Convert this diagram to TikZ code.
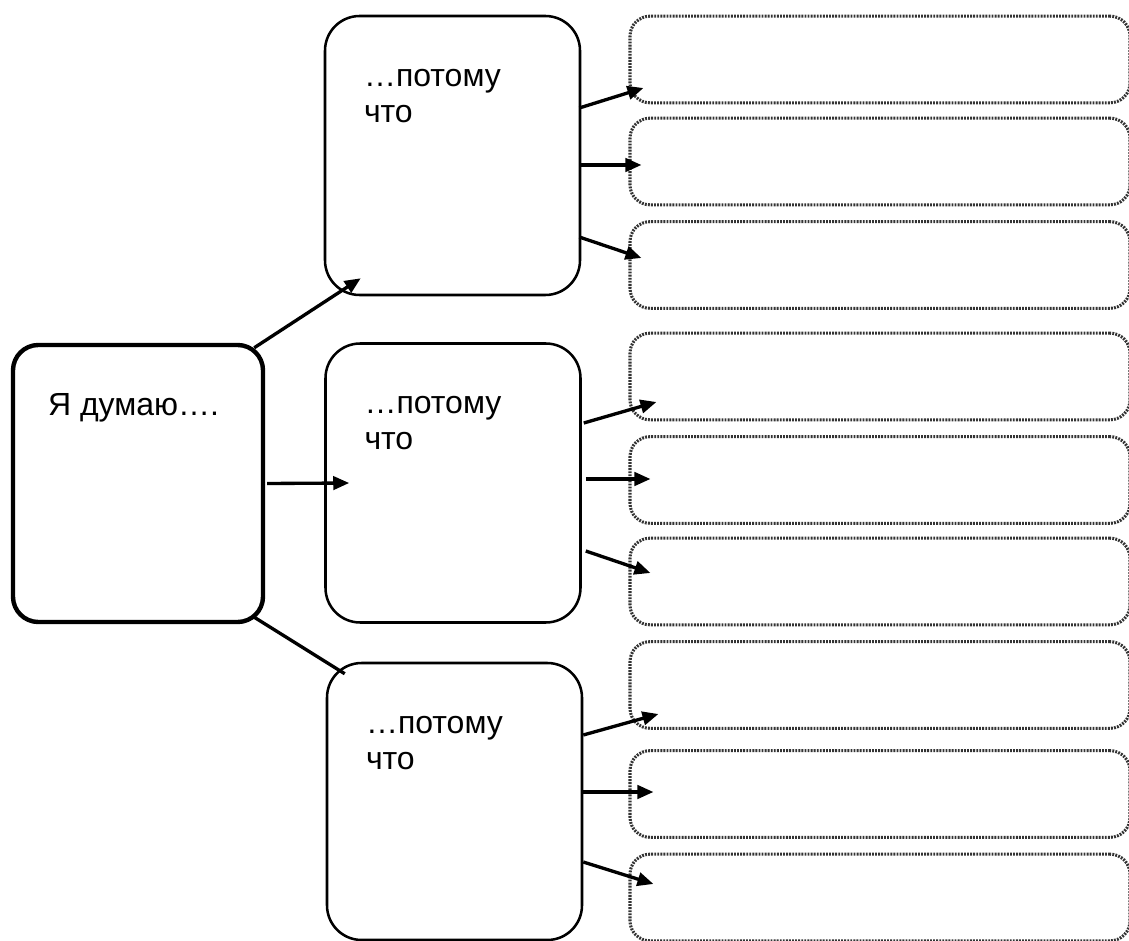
\documentclass[tikz,border=0pt]{standalone}
\usepackage{fontspec}
\setmainfont{Liberation Sans}
\usetikzlibrary{arrows.meta,calc}
\begin{document}
\begin{tikzpicture}[x=0.75pt,y=-0.75pt,
  mainbox/.style={draw=black,line width=3.3pt,rounded corners=19pt,minimum width=187.5pt,minimum height=207.75pt,inner sep=0pt},
  reasonbox/.style={draw=black,line width=1.9pt,rounded corners=26pt,minimum width=191.25pt,minimum height=209.25pt,inner sep=0pt},
  slotbox/.style={draw=black!80,line width=2.3pt,dash pattern=on 1.4pt off 0.9pt,rounded corners=15pt,minimum width=375pt,minimum height=65pt,inner sep=0pt},
  lbl/.style={anchor=north west,inner sep=0pt,align=left,font=\fontsize{24}{27}\selectfont},
  arr/.style={line width=2.5pt,-{Triangle[length=12pt,width=10pt]}},
  link/.style={line width=2.5pt}]
\useasboundingbox (0,0) rectangle (1129,941);
% main boxes
\node[mainbox] (L) at (138,483.5) {};
\node[reasonbox] (m1) at (452.5,155.5) {};
\node[reasonbox] (m2) at (453,483) {};
\node[reasonbox,minimum height=207.75pt] (m3) at (454.5,801.5) {};
% labels
\node[lbl] (tL) at ($(L.north west)+(37,50)$) {Я думаю….};
\node[lbl] (t1) at ($(m1.north west)+(40,54)$) {…потому\\что};
\node[lbl] (t2) at ($(m2.north west)+(40,54)$) {…потому\\что};
\node[lbl] (t3) at ($(m3.north west)+(40,54)$) {…потому\\что};
% slot boxes
\node[slotbox] (d11) at (880,59.5) {};
\node[slotbox] (d12) at (880,161.5) {};
\node[slotbox] (d13) at (880,265) {};
\node[slotbox] (d21) at (880,376.5) {};
\node[slotbox] (d22) at (880,480) {};
\node[slotbox] (d23) at (880,581.5) {};
\node[slotbox] (d31) at (880,685) {};
\node[slotbox] (d32) at (880,794) {};
\node[slotbox] (d33) at (880,897.5) {};
% connectors from the main box
\draw[arr] ($(L.north east)+(-11,5)$) -- ($(m1.south west)+(37,-18)$);
\draw[arr] ($(L.east)+(2,0)$) -- ($(m2.west)+(25,0)$);
\draw[link] ($(L.south east)+(-11,-7)$) -- ($(m3.north west)+(19,12)$);
% group 1
\draw[arr] ($(m1.east)+(-2,-47.5)$) -- ($(d11.west)+(15,28.5)$);
\draw[arr] ($(m1.east)+(-2,9.5)$) -- ($(d12.west)+(13,3.5)$);
\draw[arr] ($(m1.east)+(-2,81.5)$) -- ($(d13.west)+(13,-7)$);
% group 2
\draw[arr] ($(m2.east)+(2,-60)$) -- ($(d21.west)+(28,25.5)$);
\draw[arr] ($(m2.east)+(4,-4)$) -- ($(d22.west)+(22,-1)$);
\draw[arr] ($(m2.east)+(4,68)$) -- ($(d23.west)+(22,-8.5)$);
% group 3
\draw[arr] ($(m3.east)+(0,-66.5)$) -- ($(d31.west)+(30,29)$);
\draw[arr] ($(m3.east)+(0,-9.5)$) -- ($(d32.west)+(25,-2)$);
\draw[arr] ($(m3.east)+(0,60.5)$) -- ($(d33.west)+(25,-13.5)$);
\end{tikzpicture}
\end{document}
